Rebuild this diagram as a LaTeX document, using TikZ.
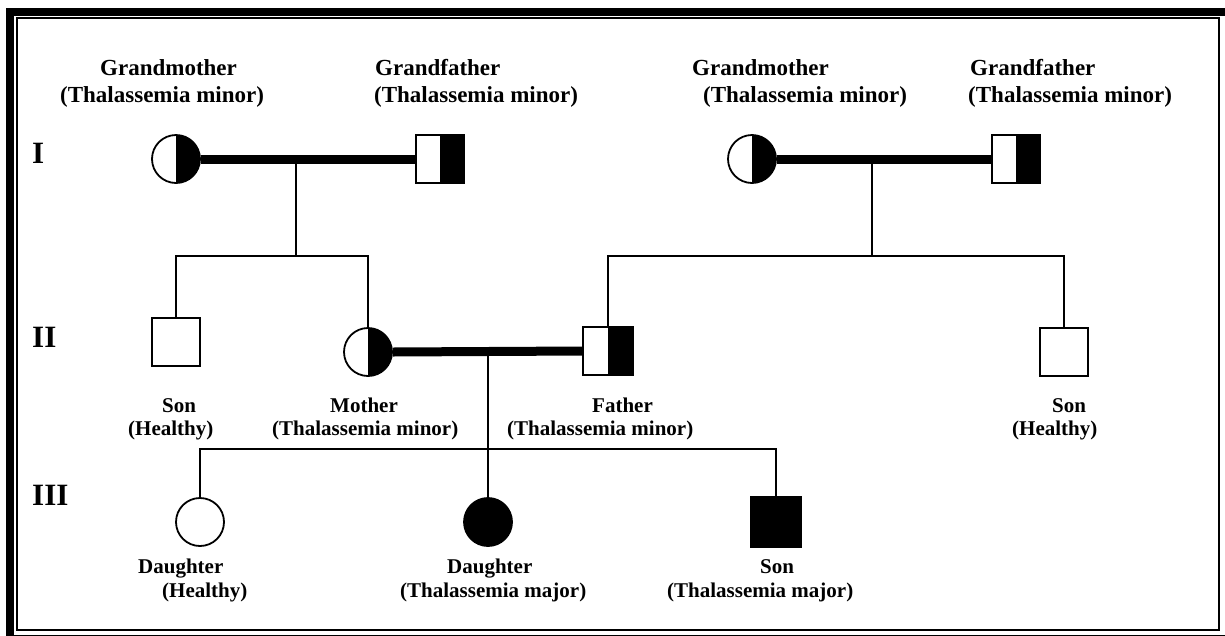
\documentclass[tikz,border=0pt]{standalone}
\usepackage{fontspec}
\setmainfont{Liberation Serif}
\begin{document}
\begin{tikzpicture}[x=1pt,y=-1pt,
  rel/.style={line width=2pt},
  marriage/.style={line width=9pt},
  female/.style={circle,draw,line width=1.8pt,minimum size=48pt,inner sep=0pt,fill=white},
  male/.style={rectangle,draw,line width=1.8pt,minimum size=48pt,inner sep=0pt,fill=white},
  halfblack/.style={path picture={\fill[black] (path picture bounding box.north) rectangle (path picture bounding box.south east);}},
  affected/.style={fill=black},
  toplbl/.style={anchor=base west,inner sep=0pt,font=\fontsize{23}{27}\selectfont\bfseries},
  lbl/.style={anchor=base west,inner sep=0pt,font=\fontsize{21}{24}\selectfont\bfseries},
  genlbl/.style={anchor=base west,inner sep=0pt,font=\fontsize{31}{34}\selectfont\bfseries}]
\useasboundingbox (0,0) rectangle (1225,635);
\clip (0,0) rectangle (1225,635);
% border
\draw[line width=8pt] (10,11.5) rectangle (1229,639);
\draw[line width=1.6pt] (17,18) rectangle (1219,630);

% generation labels
\node[genlbl] (gI) at (32,163) {I};
\node[genlbl] (gII) at (32,347) {II};
\node[genlbl] (gIII) at (32,505) {III};

% generation I
\node[female,halfblack] (gm1) at (176,159) {};
\node[male,halfblack] (gf1) at (440,159) {};
\node[female,halfblack] (gm2) at (752,159) {};
\node[male,halfblack] (gf2) at (1016,159) {};

% generation II
\node[male] (son1) at (176,342) {};
\node[female,halfblack] (mother) at (368,352) {};
\node[male,halfblack,minimum width=50pt] (father) at (608,351) {};
\node[male] (son2) at (1064,352) {};

% generation III
\node[female] (d1) at (200,522) {};
\node[female,affected] (d2) at (488,522) {};
\node[male,affected,minimum size=50pt] (son3) at (776,522) {};

% couples
\coordinate (c1) at (296,159);
\coordinate (s1) at (296,256);
\coordinate (c2) at (872,159);
\coordinate (s2) at (872,256);
\coordinate (c3) at (488,352);
\coordinate (s3) at (488,449);

\draw[marriage] (gm1.east) -- (gf1.west);
\draw[marriage] (gm2.east) -- (gf2.west);
\draw[marriage] (mother.east) -- (father.west);

\draw[rel] (c1) -- (s1);
\draw[rel] (son1.north) |- (s1) -| (mother.north);
\draw[rel] (c2) -- (s2);
\draw[rel] (father.north) |- (s2) -| (son2.north);
\draw[rel] (c3) -- (d2.north);
\draw[rel] (d1.north) |- (s3) -| (son3.north);

% labels generation I
\node[toplbl] (t1a) at (100,75) {Grandmother};
\node[toplbl] (t1b) at (60,102) {(Thalassemia minor)};
\node[toplbl] (t2a) at (375,75) {Grandfather};
\node[toplbl] (t2b) at (374,102) {(Thalassemia minor)};
\node[toplbl] (t3a) at (692,75) {Grandmother};
\node[toplbl] (t3b) at (703,102) {(Thalassemia minor)};
\node[toplbl] (t4a) at (970,75) {Grandfather};
\node[toplbl] (t4b) at (968,102) {(Thalassemia minor)};

% labels generation II
\node[lbl] (l1a) at (162,412) {Son};
\node[lbl] (l1b) at (128,435) {(Healthy)};
\node[lbl] (l2a) at (330,412) {Mother};
\node[lbl] (l2b) at (272,435) {(Thalassemia minor)};
\node[lbl] (l3a) at (592,412) {Father};
\node[lbl] (l3b) at (507,435) {(Thalassemia minor)};
\node[lbl] (l4a) at (1052,412) {Son};
\node[lbl] (l4b) at (1012,435) {(Healthy)};

% labels generation III
\node[lbl] (m1a) at (138,573) {Daughter};
\node[lbl] (m1b) at (162,597) {(Healthy)};
\node[lbl] (m2a) at (447,573) {Daughter};
\node[lbl] (m2b) at (400,597) {(Thalassemia major)};
\node[lbl] (m3a) at (760,573) {Son};
\node[lbl] (m3b) at (667,597) {(Thalassemia major)};
\end{tikzpicture}
\end{document}
